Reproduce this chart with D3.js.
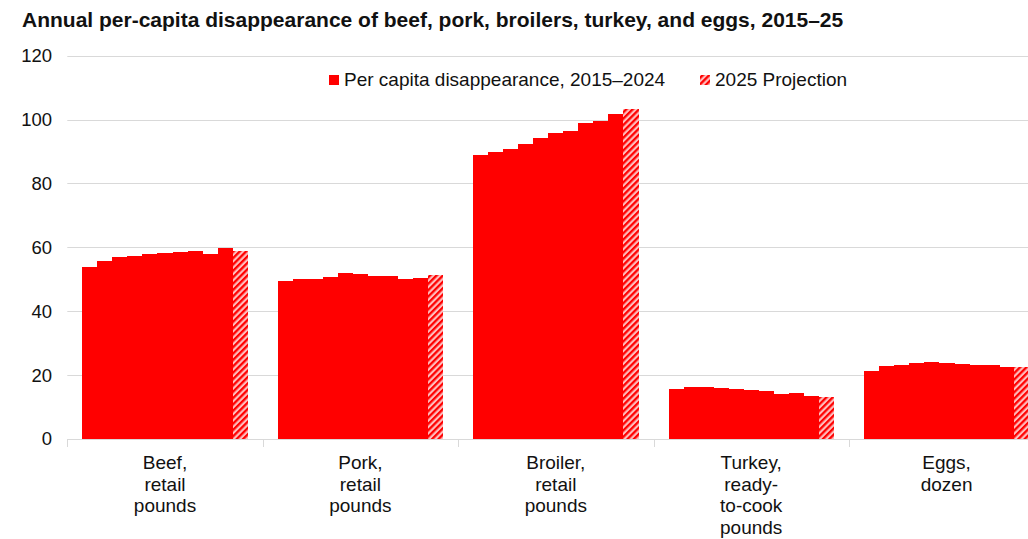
<!DOCTYPE html>
<html><head><meta charset="utf-8">
<script src="https://cdn.jsdelivr.net/npm/d3@7"></script>
<style>
html,body{margin:0;padding:0;background:#fff;overflow:hidden;}
text{font-family:"Liberation Sans",Arial,sans-serif;}
</style></head>
<body>
<script>
const title = "Annual per-capita disappearance of beef, pork, broilers, turkey, and eggs, 2015\u201325";
const categories = ["Beef", "Pork", "Broiler", "Turkey", "Eggs"];
const categoryLabels = [
  ["Beef,", "retail", "pounds"],
  ["Pork,", "retail", "pounds"],
  ["Broiler,", "retail", "pounds"],
  ["Turkey,", "ready-", "to-cook", "pounds"],
  ["Eggs,", "dozen"]
];
const years = ["2015","2016","2017","2018","2019","2020","2021","2022","2023","2024","2025"];
const beef    = [53.9, 55.6, 56.9, 57.4, 57.8, 58.1, 58.7, 58.9, 57.9, 59.7, 58.9];
const pork    = [49.6, 50.0, 50.1, 50.8, 51.9, 51.6, 50.9, 50.9, 50.1, 50.3, 51.4];
const broiler = [88.9, 89.7, 90.9, 92.4, 94.3, 95.7, 96.4, 98.8, 99.4, 101.7, 103.3];
const turkey  = [15.7, 16.3, 16.2, 15.9, 15.5, 15.2, 14.9, 14.2, 14.5, 13.6, 13.3];
const eggs    = [21.3, 22.9, 23.2, 23.7, 24.1, 23.8, 23.6, 23.3, 23.1, 22.6, 22.5];
const seriesValues = [beef, pork, broiler, turkey, eggs];
const yTicks = [0, 20, 40, 60, 80, 100, 120];
const legendLabels = ["Per capita disappearance, 2015\u20132024", "2025 Projection"];

const W = 1028, H = 539;
const svg = d3.select("body").append("svg").attr("width", W).attr("height", H);

const defs = svg.append("defs");
const pat = defs.append("pattern").attr("id","hatch").attr("patternUnits","userSpaceOnUse")
  .attr("width",4.5).attr("height",4.5).attr("patternTransform","rotate(45)");
pat.append("rect").attr("width",4.5).attr("height",4.5).attr("fill","#ffbdbd");
pat.append("rect").attr("width",2.3).attr("height",4.5).attr("fill","#ff0000");

const x0 = 67.3, x1 = 1044.3, yTop = 55.7, yBot = 439;
const x = d3.scaleBand().domain(categories).range([x0, x1]).paddingInner(0.1536).paddingOuter(0.0768);
const xi = d3.scaleBand().domain(years).range([0, x.bandwidth()]);
const y = d3.scaleLinear().domain([0, 120]).range([yBot, yTop]);

// gridlines
svg.append("g").selectAll("line").data(yTicks.filter(d => d > 0)).join("line")
  .attr("x1", x0).attr("x2", W).attr("y1", d => Math.round(y(d)) + 0.5).attr("y2", d => Math.round(y(d)) + 0.5)
  .attr("stroke", "#d9d9d9").attr("stroke-width", 1);

// y tick labels
svg.append("g").selectAll("text").data(yTicks).join("text")
  .attr("x", 52).attr("y", d => y(d)).attr("dy", "0.35em")
  .attr("text-anchor", "end").attr("font-size", 18.5).attr("fill", "#111")
  .text(d => d);

// bars
const groups = svg.append("g").attr("shape-rendering", "crispEdges").selectAll("g").data(categories).join("g")
  .attr("transform", d => `translate(${x(d)},0)`);
groups.each(function(cat, ci) {
  const vals = seriesValues[ci];
  d3.select(this).selectAll("rect").data(years).join("rect")
    .attr("x", yr => xi(yr)).attr("width", xi.bandwidth() + 0.4)
    .attr("y", (yr, i) => y(vals[i])).attr("height", (yr, i) => yBot - y(vals[i]))
    .attr("fill", (yr, i) => i === years.length - 1 ? "url(#hatch)" : "#ff0000");
});

// x axis line and ticks
svg.append("line").attr("x1", x0).attr("x2", W).attr("y1", yBot + 0.5).attr("y2", yBot + 0.5)
  .attr("stroke", "#d9d9d9").attr("stroke-width", 1);
const step = x.step();
const boundaries = d3.range(categories.length + 1).map(i => x0 + i * step);
svg.append("g").selectAll("line").data(boundaries).join("line")
  .attr("x1", d => Math.round(d) + 0.5).attr("x2", d => Math.round(d) + 0.5).attr("y1", yBot).attr("y2", yBot + 8)
  .attr("stroke", "#d9d9d9").attr("stroke-width", 1);

// x labels
svg.append("g").selectAll("text").data(categories).join("text")
  .attr("text-anchor", "middle").attr("font-size", 19).attr("fill", "#111")
  .each(function(cat, ci) {
    const cx = x(cat) + x.bandwidth() / 2;
    d3.select(this).selectAll("tspan").data(categoryLabels[ci]).join("tspan")
      .attr("x", cx).attr("y", (d, i) => 469 + i * 21.5).text(d => d);
  });

// title
svg.append("text").attr("x", 22).attr("y", 26.5).attr("font-size", 21).attr("font-weight", "bold")
  .attr("fill", "#111").text(title);

// legend
const lg = svg.append("g");
lg.append("rect").attr("x", 329).attr("y", 75).attr("width", 10).attr("height", 10).attr("fill", "#ff0000");
lg.append("text").attr("x", 344).attr("y", 86).attr("font-size", 19).attr("fill", "#111").text(legendLabels[0]);
lg.append("rect").attr("x", 700).attr("y", 75).attr("width", 10).attr("height", 10).attr("fill", "url(#hatch)");
lg.append("text").attr("x", 715).attr("y", 86).attr("font-size", 19).attr("fill", "#111").text(legendLabels[1]);
</script>
</body></html>
